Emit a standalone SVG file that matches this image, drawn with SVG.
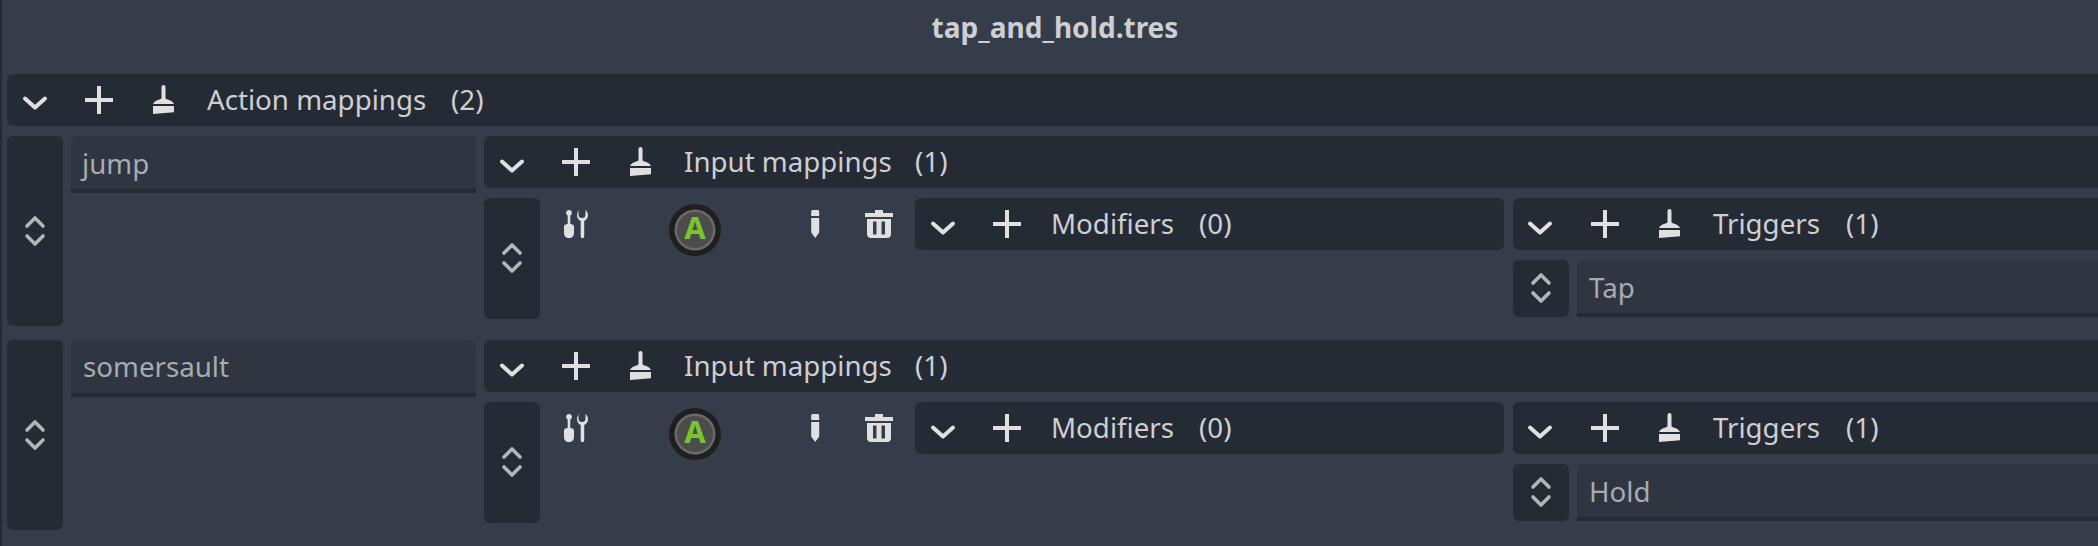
<svg xmlns="http://www.w3.org/2000/svg" width="2098" height="546" viewBox="0 0 2098 546">
<style>
text{font-family:"Noto Sans","DejaVu Sans",sans-serif;font-size:27.700px;fill:#cdcfd2}
.ph{fill:#a8abb0}
.title{font-weight:700;font-size:28px;text-anchor:middle}
.dark{fill:#252b34}
.inp{fill:#303641}
.line{fill:#252b34}
.chev{fill:none;stroke:#e0e0e0;stroke-width:4;stroke-linecap:round;stroke-linejoin:round}
.grip{fill:none;stroke:#b3b5b8;stroke-width:3.600;stroke-linecap:round;stroke-linejoin:round}
.ic{fill:#e0e0e0}
.A{font-weight:700;font-size:31px;fill:#7ac52c;text-anchor:middle}
</style>
<defs>
<path id="chev" class="chev" d="M-10-4.500 0 4.500 10-4.500"/>
<path id="grip" class="grip" d="M-8-5 0-13 8-5M-8 5 0 13 8 5"/>
<path id="plus" class="ic" d="M-2-14h4v12H14v4H2V14h-4V2H-14v-4H-2z"/>
<path id="brush" class="ic" d="M8.500 1a2 2 0 0 1 4 0v10.500c0 1 .5 1.500 2 2 3.500 1 5.500 2 6.500 4.500H0c1-2.500 3-3.500 6.500-4.500 1.500-.5 2-1 2-2zM0 20h21v6.200L0 28z"/>
<g id="tools">
<path class="ic" d="M5 0a3 3 0 0 1 1.300 5.700V14c2.200.3 3.700.8 3.700 2.500v6.500C10 26 8 28 5 28s-5-2-5-5v-6.500C0 14.800 1.500 14.300 3.700 14V5.700A3 3 0 0 1 5 0z"/>
<path class="ic" d="M14.500 0v4.500a3.500 3.500 0 0 0 7 0V0c1.500 1 2.500 3 2.500 5 0 2.800-1.500 5-3.800 6v15.500c0 1-.9 1.500-1.700 1.500s-1.800-.5-1.800-1.500V11c-2.200-1-3.700-3.200-3.700-6 0-2 1-4 2.500-5z"/>
</g>
<path id="pencil" class="ic" d="M2 0h4.500c1 0 1.700.7 1.700 1.700V6H.2V1.700C.2.700 1 0 2 0zM.2 8h8v14.500L4.200 28 .2 22.500z"/>
<g id="trash">
<path class="ic" d="M0 3h10V0h8v3h10v4H0z"/>
<path class="ic" fill-rule="evenodd" d="M2 9h24v15c0 2.500-1.500 4-4 4H6c-2.500 0-4-1.500-4-4zM8 11.500v13h3.500v-13zM16.500 11.500v13H20v-13z"/>
</g>
</defs>

<rect width="2098" height="546" fill="#363d4a"/>
<rect width="2" height="546" fill="#252b34"/>
<text id="title" class="title" x="1055" y="38">tap_and_hold.tres</text>

<g id="action-mappings">
<path class="dark" d="M2098 74H13a6 6 0 0 0-6 6v40a6 6 0 0 0 6 6h2085z"/>
<use href="#chev" x="35" y="103"/><use href="#plus" x="99" y="100"/><use href="#brush" x="153" y="86"/>
<text x="207" y="110">Action mappings</text><text x="451" y="110">(2)</text>
</g>

<g id="jump">
<rect class="dark" x="7" y="136" width="56" height="190" rx="6"/>
<use href="#grip" x="35" y="231"/>
<path class="inp" d="M71 189v-47a6 6 0 0 1 6-6h393a6 6 0 0 1 6 6v47z"/>
<rect class="line" x="71" y="189" width="405" height="4"/>
<text class="ph" x="82" y="174">jump</text>
</g>

<g id="jump-input">
<path class="dark" d="M2098 136H490a6 6 0 0 0-6 6v40a6 6 0 0 0 6 6h1608z"/>
<use href="#chev" x="512" y="166"/><use href="#plus" x="576" y="162"/><use href="#brush" x="630" y="148"/>
<text x="684" y="172">Input mappings</text><text x="915" y="172">(1)</text>
<rect class="dark" x="484" y="198" width="56" height="121" rx="6"/>
<use href="#grip" x="512" y="258"/>
<use href="#tools" x="564" y="210"/>
<circle cx="695" cy="230" r="26" fill="#1f1f1f"/><circle cx="695" cy="230" r="20.500" fill="#6a6a6a"/><circle cx="695" cy="230" r="18" fill="#4c4c4c"/>
<text class="A" x="695" y="239">A</text>
<use href="#pencil" x="811" y="210"/><use href="#trash" x="865" y="210"/>
</g>

<g id="jump-modifiers">
<rect class="dark" x="915" y="198" width="589" height="52" rx="6"/>
<use href="#chev" x="943" y="228"/><use href="#plus" x="1007" y="224"/>
<text x="1051" y="234">Modifiers</text><text x="1199" y="234">(0)</text>
</g>

<g id="jump-triggers">
<path class="dark" d="M2098 198H1519a6 6 0 0 0-6 6v40a6 6 0 0 0 6 6h579z"/>
<use href="#chev" x="1540" y="228"/><use href="#plus" x="1605" y="224"/><use href="#brush" x="1659" y="210"/>
<text x="1713" y="234">Triggers</text><text x="1846" y="234">(1)</text>
<rect class="dark" x="1513" y="260" width="56" height="57" rx="6"/>
<use href="#grip" x="1541" y="288"/>
<path class="inp" d="M2098 313H1577v-47a6 6 0 0 1 6-6h515z"/>
<rect class="line" x="1577" y="313" width="521" height="4"/>
<text class="ph" x="1589" y="298">Tap</text>
</g>

<g id="somersault">
<rect class="dark" x="7" y="340" width="56" height="190" rx="6"/>
<use href="#grip" x="35" y="435"/>
<path class="inp" d="M71 393v-47a6 6 0 0 1 6-6h393a6 6 0 0 1 6 6v47z"/>
<rect class="line" x="71" y="393" width="405" height="4"/>
<text class="ph" x="83" y="377">somersault</text>
</g>

<g id="somersault-input">
<path class="dark" d="M2098 340H490a6 6 0 0 0-6 6v40a6 6 0 0 0 6 6h1608z"/>
<use href="#chev" x="512" y="370"/><use href="#plus" x="576" y="366"/><use href="#brush" x="630" y="352"/>
<text x="684" y="376">Input mappings</text><text x="915" y="376">(1)</text>
<rect class="dark" x="484" y="402" width="56" height="121" rx="6"/>
<use href="#grip" x="512" y="462"/>
<use href="#tools" x="564" y="414"/>
<circle cx="695" cy="434" r="26" fill="#1f1f1f"/><circle cx="695" cy="434" r="20.500" fill="#6a6a6a"/><circle cx="695" cy="434" r="18" fill="#4c4c4c"/>
<text class="A" x="695" y="443">A</text>
<use href="#pencil" x="811" y="414"/><use href="#trash" x="865" y="414"/>
</g>

<g id="somersault-modifiers">
<rect class="dark" x="915" y="402" width="589" height="52" rx="6"/>
<use href="#chev" x="943" y="432"/><use href="#plus" x="1007" y="428"/>
<text x="1051" y="438">Modifiers</text><text x="1199" y="438">(0)</text>
</g>

<g id="somersault-triggers">
<path class="dark" d="M2098 402H1519a6 6 0 0 0-6 6v40a6 6 0 0 0 6 6h579z"/>
<use href="#chev" x="1540" y="432"/><use href="#plus" x="1605" y="428"/><use href="#brush" x="1659" y="414"/>
<text x="1713" y="438">Triggers</text><text x="1846" y="438">(1)</text>
<rect class="dark" x="1513" y="464" width="56" height="57" rx="6"/>
<use href="#grip" x="1541" y="492"/>
<path class="inp" d="M2098 517H1577v-47a6 6 0 0 1 6-6h515z"/>
<rect class="line" x="1577" y="517" width="521" height="4"/>
<text class="ph" x="1589" y="502">Hold</text>
</g>

<g id="connectors"></g>
</svg>
